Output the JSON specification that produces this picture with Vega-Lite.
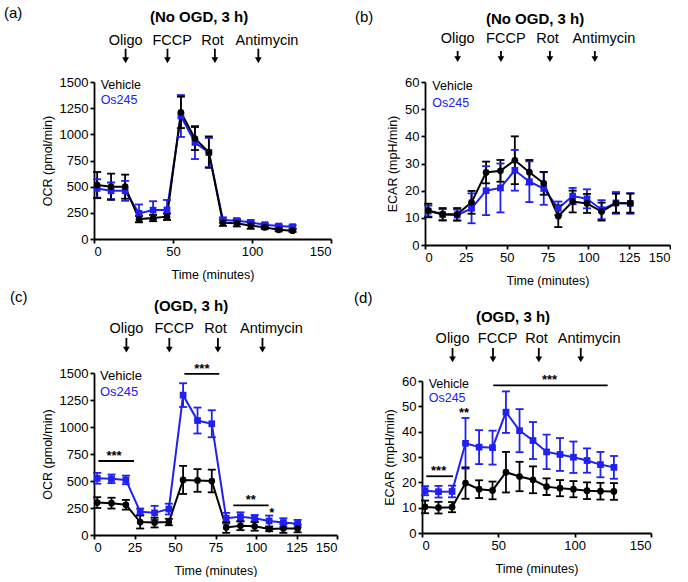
{
"$schema": "https://vega.github.io/schema/vega-lite/v6.json",
"background": "white",
"padding": {"left": 3, "top": 0, "right": 0, "bottom": 0},
"config": {
  "font": "Liberation Sans",
  "view": {"stroke": null},
  "axis": {"domainColor": "black", "domainWidth": 1.8, "tickColor": "black", "tickWidth": 1.8, "tickSize": 4, "labelFontSize": 13, "labelColor": "black", "labelFont": "Liberation Sans", "titleFont": "Liberation Sans", "titleFontSize": 12.5, "titleFontWeight": "normal", "titleColor": "black", "grid": false, "labelPadding": 2, "labelOverlap": false},
  "axisX": {"titlePadding": 10},
  "axisY": {"titlePadding": 5},
  "text": {"font": "Liberation Sans", "color": "black"}
},
"datasets": {
  "a": [
    {"t":2,"g":"Os245","v":483,"lo":395,"hi":571},{"t":10.8,"g":"Os245","v":460,"lo":380,"hi":540},{"t":19.7,"g":"Os245","v":460,"lo":365,"hi":555},{"t":28.5,"g":"Os245","v":245,"lo":160,"hi":330},{"t":37.4,"g":"Os245","v":276,"lo":191,"hi":361},{"t":46.2,"g":"Os245","v":278,"lo":183,"hi":373},{"t":55,"g":"Os245","v":1175,"lo":975,"hi":1375},{"t":63.9,"g":"Os245","v":922,"lo":764,"hi":1080},{"t":72.7,"g":"Os245","v":826,"lo":686,"hi":966},{"t":81.6,"g":"Os245","v":181,"lo":156,"hi":206},{"t":90.4,"g":"Os245","v":175,"lo":155,"hi":195},{"t":99.2,"g":"Os245","v":159,"lo":139,"hi":179},{"t":108.1,"g":"Os245","v":137,"lo":122,"hi":152},{"t":116.9,"g":"Os245","v":124,"lo":109,"hi":139},{"t":125.7,"g":"Os245","v":118,"lo":103,"hi":133},
    {"t":2,"g":"Vehicle","v":515,"lo":390,"hi":640},{"t":10.8,"g":"Vehicle","v":500,"lo":375,"hi":625},{"t":19.7,"g":"Vehicle","v":500,"lo":385,"hi":615},{"t":28.5,"g":"Vehicle","v":190,"lo":160,"hi":220},{"t":37.4,"g":"Vehicle","v":200,"lo":170,"hi":230},{"t":46.2,"g":"Vehicle","v":213,"lo":183,"hi":243},{"t":55,"g":"Vehicle","v":1210,"lo":1060,"hi":1360},{"t":63.9,"g":"Vehicle","v":960,"lo":850,"hi":1070},{"t":72.7,"g":"Vehicle","v":830,"lo":680,"hi":980},{"t":81.6,"g":"Vehicle","v":155,"lo":125,"hi":185},{"t":90.4,"g":"Vehicle","v":150,"lo":120,"hi":180},{"t":99.2,"g":"Vehicle","v":127,"lo":97,"hi":157},{"t":108.1,"g":"Vehicle","v":111,"lo":96,"hi":126},{"t":116.9,"g":"Vehicle","v":88,"lo":73,"hi":103},{"t":125.7,"g":"Vehicle","v":80,"lo":68,"hi":92}
  ],
  "b": [
    {"t":2,"g":"Os245","v":12.5,"lo":10.5,"hi":14.5},{"t":10.8,"g":"Os245","v":11.2,"lo":9.2,"hi":13.2},{"t":19.7,"g":"Os245","v":11,"lo":9,"hi":13},{"t":28.5,"g":"Os245","v":13.5,"lo":8,"hi":19},{"t":37.4,"g":"Os245","v":20,"lo":11,"hi":29},{"t":46.2,"g":"Os245","v":21,"lo":12,"hi":30},{"t":55,"g":"Os245","v":27.5,"lo":20,"hi":35},{"t":63.9,"g":"Os245","v":23.3,"lo":15.8,"hi":30.8},{"t":72.7,"g":"Os245","v":20.8,"lo":14.8,"hi":26.8},{"t":81.6,"g":"Os245","v":13.5,"lo":11,"hi":16},{"t":90.4,"g":"Os245","v":18,"lo":15,"hi":21},{"t":99.2,"g":"Os245","v":17,"lo":13.5,"hi":20.5},{"t":108.1,"g":"Os245","v":13,"lo":9.5,"hi":16.5},{"t":116.9,"g":"Os245","v":15.5,"lo":11.5,"hi":19.5},{"t":125.7,"g":"Os245","v":15.3,"lo":11.5,"hi":19.1},
    {"t":2,"g":"Vehicle","v":12.7,"lo":10.2,"hi":15.2},{"t":10.8,"g":"Vehicle","v":11.3,"lo":9,"hi":13.6},{"t":19.7,"g":"Vehicle","v":11.3,"lo":9,"hi":13.6},{"t":28.5,"g":"Vehicle","v":15.7,"lo":11.5,"hi":19.9},{"t":37.4,"g":"Vehicle","v":26.7,"lo":22.7,"hi":30.7},{"t":46.2,"g":"Vehicle","v":27.3,"lo":23.3,"hi":31.3},{"t":55,"g":"Vehicle","v":31.2,"lo":22.4,"hi":40},{"t":63.9,"g":"Vehicle","v":26.8,"lo":22.3,"hi":31.3},{"t":72.7,"g":"Vehicle","v":22.7,"lo":18.5,"hi":26.9},{"t":81.6,"g":"Vehicle","v":10.6,"lo":6.6,"hi":14.6},{"t":90.4,"g":"Vehicle","v":16,"lo":12,"hi":20},{"t":99.2,"g":"Vehicle","v":15.3,"lo":11.8,"hi":18.8},{"t":108.1,"g":"Vehicle","v":12.3,"lo":9,"hi":15.6},{"t":116.9,"g":"Vehicle","v":15.4,"lo":11.9,"hi":18.9},{"t":125.7,"g":"Vehicle","v":15.4,"lo":11.9,"hi":18.9}
  ],
  "c": [
    {"t":2,"g":"Os245","v":525,"lo":475,"hi":575},{"t":10.8,"g":"Os245","v":520,"lo":480,"hi":560},{"t":19.7,"g":"Os245","v":510,"lo":470,"hi":550},{"t":28.5,"g":"Os245","v":215,"lo":185,"hi":245},{"t":37.4,"g":"Os245","v":205,"lo":140,"hi":270},{"t":46.2,"g":"Os245","v":240,"lo":190,"hi":290},{"t":55,"g":"Os245","v":1295,"lo":1185,"hi":1405},{"t":63.9,"g":"Os245","v":1060,"lo":940,"hi":1180},{"t":72.7,"g":"Os245","v":1030,"lo":905,"hi":1155},{"t":81.6,"g":"Os245","v":155,"lo":105,"hi":205},{"t":90.4,"g":"Os245","v":170,"lo":130,"hi":210},{"t":99.2,"g":"Os245","v":155,"lo":125,"hi":185},{"t":108.1,"g":"Os245","v":130,"lo":80,"hi":180},{"t":116.9,"g":"Os245","v":115,"lo":75,"hi":155},{"t":125.7,"g":"Os245","v":105,"lo":70,"hi":140},
    {"t":2,"g":"Vehicle","v":300,"lo":250,"hi":350},{"t":10.8,"g":"Vehicle","v":295,"lo":245,"hi":345},{"t":19.7,"g":"Vehicle","v":280,"lo":235,"hi":325},{"t":28.5,"g":"Vehicle","v":120,"lo":60,"hi":180},{"t":37.4,"g":"Vehicle","v":115,"lo":70,"hi":160},{"t":46.2,"g":"Vehicle","v":120,"lo":90,"hi":150},{"t":55,"g":"Vehicle","v":510,"lo":380,"hi":640},{"t":63.9,"g":"Vehicle","v":505,"lo":400,"hi":610},{"t":72.7,"g":"Vehicle","v":500,"lo":395,"hi":605},{"t":81.6,"g":"Vehicle","v":70,"lo":20,"hi":120},{"t":90.4,"g":"Vehicle","v":85,"lo":45,"hi":125},{"t":99.2,"g":"Vehicle","v":80,"lo":40,"hi":120},{"t":108.1,"g":"Vehicle","v":55,"lo":35,"hi":75},{"t":116.9,"g":"Vehicle","v":60,"lo":20,"hi":100},{"t":125.7,"g":"Vehicle","v":60,"lo":25,"hi":95}
  ],
  "d": [
    {"t":2,"g":"Os245","v":16.7,"lo":14.9,"hi":18.5},{"t":10.8,"g":"Os245","v":16.3,"lo":14,"hi":18.6},{"t":19.7,"g":"Os245","v":16.4,"lo":14.1,"hi":18.7},{"t":28.5,"g":"Os245","v":35.4,"lo":25.4,"hi":45.4},{"t":37.4,"g":"Os245","v":33.9,"lo":27.2,"hi":40.6},{"t":46.2,"g":"Os245","v":33.7,"lo":27,"hi":40.4},{"t":55,"g":"Os245","v":47.7,"lo":39.5,"hi":55.9},{"t":63.9,"g":"Os245","v":40.4,"lo":31.9,"hi":48.9},{"t":72.7,"g":"Os245","v":36.5,"lo":29.2,"hi":43.8},{"t":81.6,"g":"Os245","v":32,"lo":25.2,"hi":38.8},{"t":90.4,"g":"Os245","v":31,"lo":24.5,"hi":37.5},{"t":99.2,"g":"Os245","v":29.9,"lo":23.7,"hi":36.1},{"t":108.1,"g":"Os245","v":28.6,"lo":23.8,"hi":33.4},{"t":116.9,"g":"Os245","v":27,"lo":22,"hi":32},{"t":125.7,"g":"Os245","v":25.9,"lo":21.4,"hi":30.4},
    {"t":2,"g":"Vehicle","v":10.3,"lo":7.8,"hi":12.8},{"t":10.8,"g":"Vehicle","v":10,"lo":7.7,"hi":12.3},{"t":19.7,"g":"Vehicle","v":10.2,"lo":8.2,"hi":12.2},{"t":28.5,"g":"Vehicle","v":19.7,"lo":13.5,"hi":25.9},{"t":37.4,"g":"Vehicle","v":17.3,"lo":13.8,"hi":20.8},{"t":46.2,"g":"Vehicle","v":16.8,"lo":13.3,"hi":20.3},{"t":55,"g":"Vehicle","v":24,"lo":16,"hi":32},{"t":63.9,"g":"Vehicle","v":22.3,"lo":16.5,"hi":28.1},{"t":72.7,"g":"Vehicle","v":21,"lo":15.7,"hi":26.3},{"t":81.6,"g":"Vehicle","v":18.3,"lo":15,"hi":21.6},{"t":90.4,"g":"Vehicle","v":17.7,"lo":14.5,"hi":20.9},{"t":99.2,"g":"Vehicle","v":17.3,"lo":14.1,"hi":20.5},{"t":108.1,"g":"Vehicle","v":16.7,"lo":13.4,"hi":20},{"t":116.9,"g":"Vehicle","v":16.5,"lo":13.2,"hi":19.8},{"t":125.7,"g":"Vehicle","v":16.4,"lo":13.1,"hi":19.7}
  ],
  "drugs": [
    {"drug":"Oligo","t":20,"lt":20},{"drug":"FCCP","t":46.5,"lt":49.5},{"drug":"Rot","t":76.5,"lt":75},{"drug":"Antimycin","t":104,"lt":109.5}
  ]
},
"columns": 2,
"align": "none",
"spacing": {"row": 1, "column": 16},
"concat": [
 {"vconcat": [
  {"width": 237, "height": 157,
   "layer": [
    {"data": {"name": "a"}, "mark": {"type": "line", "strokeWidth": 2},
     "encoding": {
      "x": {"field": "t", "type": "quantitative", "scale": {"domain": [0, 150], "nice": false}, "axis": {"values": [0,25,50,75,100,125,150], "title": "Time (minutes)", "labelOverlap": false}},
      "y": {"field": "v", "type": "quantitative", "scale": {"domain": [0, 1500], "nice": false}, "axis": {"values": [0,250,500,750,1000,1250,1500], "title": "OCR (pmol/min)", "labelOverlap": false, "format": "d"}},
      "color": {"field": "g", "type": "nominal", "scale": {"domain": ["Vehicle", "Os245"], "range": ["#000000", "#2020f0"]}, "legend": null}}},
    {"data": {"name": "a"}, "mark": {"type": "rule", "strokeWidth": 1.8},
     "encoding": {"x": {"field": "t", "type": "quantitative", "title": "Time (minutes)"}, "y": {"field": "lo", "type": "quantitative", "axis": {"values": [0,250,500,750,1000,1250,1500], "title": "OCR (pmol/min)", "labelOverlap": false, "format": "d"}}, "y2": {"field": "hi"}, "color": {"field": "g", "type": "nominal", "legend": null}}},
    {"data": {"name": "a"}, "mark": {"type": "tick", "orient": "horizontal", "size": 8, "thickness": 1.8, "opacity": 1},
     "encoding": {"x": {"field": "t", "type": "quantitative", "title": "Time (minutes)"}, "y": {"field": "lo", "type": "quantitative", "axis": {"values": [0,250,500,750,1000,1250,1500], "title": "OCR (pmol/min)", "labelOverlap": false, "format": "d"}}, "color": {"field": "g", "type": "nominal", "legend": null}}},
    {"data": {"name": "a"}, "mark": {"type": "tick", "orient": "horizontal", "size": 8, "thickness": 1.8, "opacity": 1},
     "encoding": {"x": {"field": "t", "type": "quantitative", "title": "Time (minutes)"}, "y": {"field": "hi", "type": "quantitative", "axis": {"values": [0,250,500,750,1000,1250,1500], "title": "OCR (pmol/min)", "labelOverlap": false, "format": "d"}}, "color": {"field": "g", "type": "nominal", "legend": null}}},
    {"data": {"name": "a"}, "mark": {"type": "point", "filled": true, "size": 45, "opacity": 1},
     "encoding": {"x": {"field": "t", "type": "quantitative", "title": "Time (minutes)"}, "y": {"field": "v", "type": "quantitative", "axis": {"values": [0,250,500,750,1000,1250,1500], "title": "OCR (pmol/min)", "labelOverlap": false, "format": "d"}}, "color": {"field": "g", "type": "nominal", "legend": null}, "shape": {"field": "g", "type": "nominal", "scale": {"domain": ["Vehicle", "Os245"], "range": ["circle", "square"]}, "legend": null}}},
    {"data": {"values": [{}]}, "mark": {"type": "point", "opacity": 0, "size": 1},
     "encoding": {"x": {"datum": 0}, "y": {"datum": 2274, "axis": {"values": [0,250,500,750,1000,1250,1500], "title": "OCR (pmol/min)", "labelOverlap": false, "format": "d"}}}},
    {"data": {"name": "drugs"}, "mark": {"type": "text", "fontSize": 14.5, "align": "center", "baseline": "alphabetic"},
     "encoding": {"x": {"field": "lt", "type": "quantitative", "title": "Time (minutes)"}, "y": {"datum": 1856, "axis": {"values": [0,250,500,750,1000,1250,1500], "title": "OCR (pmol/min)", "labelOverlap": false, "format": "d"}}, "text": {"field": "drug"}}},
    {"data": {"name": "drugs"}, "mark": {"type": "rule", "strokeWidth": 1.8, "color": "black"},
     "encoding": {"x": {"field": "t", "type": "quantitative", "title": "Time (minutes)"}, "y": {"datum": 1818, "axis": {"values": [0,250,500,750,1000,1250,1500], "title": "OCR (pmol/min)", "labelOverlap": false, "format": "d"}}, "y2": {"datum": 1712}}},
    {"data": {"name": "drugs"}, "mark": {"type": "point", "shape": "triangle-down", "filled": true, "size": 45, "color": "black", "opacity": 1},
     "encoding": {"x": {"field": "t", "type": "quantitative", "title": "Time (minutes)"}, "y": {"datum": 1708, "axis": {"values": [0,250,500,750,1000,1250,1500], "title": "OCR (pmol/min)", "labelOverlap": false, "format": "d"}}}},
    {"data": {"values": [{}]}, "mark": {"type": "text", "text": "(a)", "fontSize": 15, "align": "left", "baseline": "alphabetic"},
     "encoding": {"x": {"datum": -57}, "y": {"datum": 2111, "axis": {"values": [0,250,500,750,1000,1250,1500], "title": "OCR (pmol/min)", "labelOverlap": false, "format": "d"}}}},
    {"data": {"values": [{}]}, "mark": {"type": "text", "text": "(No OGD, 3 h)", "fontSize": 15, "fontWeight": "bold", "align": "center", "baseline": "alphabetic"},
     "encoding": {"x": {"datum": 66.5}, "y": {"datum": 2073, "axis": {"values": [0,250,500,750,1000,1250,1500], "title": "OCR (pmol/min)", "labelOverlap": false, "format": "d"}}}},
    {"data": {"values": [{}]}, "mark": {"type": "text", "text": "Vehicle", "fontSize": 12.5, "align": "left", "baseline": "middle", "color": "#000000"},
     "encoding": {"x": {"datum": 4.2}, "y": {"datum": 1468, "axis": {"values": [0,250,500,750,1000,1250,1500], "title": "OCR (pmol/min)", "labelOverlap": false, "format": "d"}}}},
    {"data": {"values": [{}]}, "mark": {"type": "text", "text": "Os245", "fontSize": 12.5, "align": "left", "baseline": "middle", "color": "#2020f0"},
     "encoding": {"x": {"datum": 4.2}, "y": {"datum": 1328, "axis": {"values": [0,250,500,750,1000,1250,1500], "title": "OCR (pmol/min)", "labelOverlap": false, "format": "d"}}}}
   ]}
 ]},
 {"vconcat": [
  {"width": 245, "height": 163,
   "layer": [
    {"data": {"name": "b"}, "mark": {"type": "line", "strokeWidth": 2},
     "encoding": {
      "x": {"field": "t", "type": "quantitative", "scale": {"domain": [0, 150], "nice": false}, "axis": {"values": [0,25,50,75,100,125,150], "title": "Time (minutes)", "labelOverlap": false}},
      "y": {"field": "v", "type": "quantitative", "scale": {"domain": [0, 60], "nice": false}, "axis": {"values": [0,10,20,30,40,50,60], "title": "ECAR (mpH/min)", "labelOverlap": false, "format": "d"}},
      "color": {"field": "g", "type": "nominal", "scale": {"domain": ["Vehicle", "Os245"], "range": ["#000000", "#2020f0"]}, "legend": null}}},
    {"data": {"name": "b"}, "mark": {"type": "rule", "strokeWidth": 1.8},
     "encoding": {"x": {"field": "t", "type": "quantitative", "title": "Time (minutes)"}, "y": {"field": "lo", "type": "quantitative", "axis": {"values": [0,10,20,30,40,50,60], "title": "ECAR (mpH/min)", "labelOverlap": false, "format": "d"}}, "y2": {"field": "hi"}, "color": {"field": "g", "type": "nominal", "legend": null}}},
    {"data": {"name": "b"}, "mark": {"type": "tick", "orient": "horizontal", "size": 8, "thickness": 1.8, "opacity": 1},
     "encoding": {"x": {"field": "t", "type": "quantitative", "title": "Time (minutes)"}, "y": {"field": "lo", "type": "quantitative", "axis": {"values": [0,10,20,30,40,50,60], "title": "ECAR (mpH/min)", "labelOverlap": false, "format": "d"}}, "color": {"field": "g", "type": "nominal", "legend": null}}},
    {"data": {"name": "b"}, "mark": {"type": "tick", "orient": "horizontal", "size": 8, "thickness": 1.8, "opacity": 1},
     "encoding": {"x": {"field": "t", "type": "quantitative", "title": "Time (minutes)"}, "y": {"field": "hi", "type": "quantitative", "axis": {"values": [0,10,20,30,40,50,60], "title": "ECAR (mpH/min)", "labelOverlap": false, "format": "d"}}, "color": {"field": "g", "type": "nominal", "legend": null}}},
    {"data": {"name": "b"}, "mark": {"type": "point", "filled": true, "size": 45, "opacity": 1},
     "encoding": {"x": {"field": "t", "type": "quantitative", "title": "Time (minutes)"}, "y": {"field": "v", "type": "quantitative", "axis": {"values": [0,10,20,30,40,50,60], "title": "ECAR (mpH/min)", "labelOverlap": false, "format": "d"}}, "color": {"field": "g", "type": "nominal", "legend": null}, "shape": {"field": "g", "type": "nominal", "scale": {"domain": ["Vehicle", "Os245"], "range": ["circle", "square"]}, "legend": null}}},
    {"data": {"values": [{}]}, "mark": {"type": "point", "opacity": 0, "size": 1},
     "encoding": {"x": {"datum": 0}, "y": {"datum": 88, "axis": {"values": [0,10,20,30,40,50,60], "title": "ECAR (mpH/min)", "labelOverlap": false, "format": "d"}}}},
    {"data": {"name": "drugs"}, "mark": {"type": "text", "fontSize": 14.5, "align": "center", "baseline": "alphabetic"},
     "encoding": {"x": {"field": "lt", "type": "quantitative", "title": "Time (minutes)"}, "y": {"datum": 74.2, "axis": {"values": [0,10,20,30,40,50,60], "title": "ECAR (mpH/min)", "labelOverlap": false, "format": "d"}}, "text": {"field": "drug"}}},
    {"data": {"name": "drugs"}, "mark": {"type": "rule", "strokeWidth": 1.8, "color": "black"},
     "encoding": {"x": {"field": "t", "type": "quantitative", "title": "Time (minutes)"}, "y": {"datum": 71.4, "axis": {"values": [0,10,20,30,40,50,60], "title": "ECAR (mpH/min)", "labelOverlap": false, "format": "d"}}, "y2": {"datum": 68.6}}},
    {"data": {"name": "drugs"}, "mark": {"type": "point", "shape": "triangle-down", "filled": true, "size": 45, "color": "black", "opacity": 1},
     "encoding": {"x": {"field": "t", "type": "quantitative", "title": "Time (minutes)"}, "y": {"datum": 68.4, "axis": {"values": [0,10,20,30,40,50,60], "title": "ECAR (mpH/min)", "labelOverlap": false, "format": "d"}}}},
    {"data": {"values": [{}]}, "mark": {"type": "text", "text": "(b)", "fontSize": 15, "align": "left", "baseline": "alphabetic"},
     "encoding": {"x": {"datum": -42.9}, "y": {"datum": 82.2, "axis": {"values": [0,10,20,30,40,50,60], "title": "ECAR (mpH/min)", "labelOverlap": false, "format": "d"}}}},
    {"data": {"values": [{}]}, "mark": {"type": "text", "text": "(No OGD, 3 h)", "fontSize": 15, "fontWeight": "bold", "align": "center", "baseline": "alphabetic"},
     "encoding": {"x": {"datum": 67.4}, "y": {"datum": 81.5, "axis": {"values": [0,10,20,30,40,50,60], "title": "ECAR (mpH/min)", "labelOverlap": false, "format": "d"}}}},
    {"data": {"values": [{}]}, "mark": {"type": "text", "text": "Vehicle", "fontSize": 12.5, "align": "left", "baseline": "middle", "color": "#000000"},
     "encoding": {"x": {"datum": 4.5}, "y": {"datum": 58.5, "axis": {"values": [0,10,20,30,40,50,60], "title": "ECAR (mpH/min)", "labelOverlap": false, "format": "d"}}}},
    {"data": {"values": [{}]}, "mark": {"type": "text", "text": "Os245", "fontSize": 12.5, "align": "left", "baseline": "middle", "color": "#2020f0"},
     "encoding": {"x": {"datum": 4.5}, "y": {"datum": 52.4, "axis": {"values": [0,10,20,30,40,50,60], "title": "ECAR (mpH/min)", "labelOverlap": false, "format": "d"}}}}
   ]}
 ]},
 {"vconcat": [
  {"width": 243, "height": 162,
   "layer": [
    {"data": {"name": "c"}, "mark": {"type": "line", "strokeWidth": 2},
     "encoding": {
      "x": {"field": "t", "type": "quantitative", "scale": {"domain": [0, 150], "nice": false}, "axis": {"values": [0,25,50,75,100,125,150], "title": "Time (minutes)", "labelOverlap": false}},
      "y": {"field": "v", "type": "quantitative", "scale": {"domain": [0, 1500], "nice": false}, "axis": {"values": [0,250,500,750,1000,1250,1500], "title": "OCR (pmol/min)", "labelOverlap": false, "format": "d"}},
      "color": {"field": "g", "type": "nominal", "scale": {"domain": ["Vehicle", "Os245"], "range": ["#000000", "#2020f0"]}, "legend": null}}},
    {"data": {"name": "c"}, "mark": {"type": "rule", "strokeWidth": 1.8},
     "encoding": {"x": {"field": "t", "type": "quantitative", "title": "Time (minutes)"}, "y": {"field": "lo", "type": "quantitative", "axis": {"values": [0,250,500,750,1000,1250,1500], "title": "OCR (pmol/min)", "labelOverlap": false, "format": "d"}}, "y2": {"field": "hi"}, "color": {"field": "g", "type": "nominal", "legend": null}}},
    {"data": {"name": "c"}, "mark": {"type": "tick", "orient": "horizontal", "size": 8, "thickness": 1.8, "opacity": 1},
     "encoding": {"x": {"field": "t", "type": "quantitative", "title": "Time (minutes)"}, "y": {"field": "lo", "type": "quantitative", "axis": {"values": [0,250,500,750,1000,1250,1500], "title": "OCR (pmol/min)", "labelOverlap": false, "format": "d"}}, "color": {"field": "g", "type": "nominal", "legend": null}}},
    {"data": {"name": "c"}, "mark": {"type": "tick", "orient": "horizontal", "size": 8, "thickness": 1.8, "opacity": 1},
     "encoding": {"x": {"field": "t", "type": "quantitative", "title": "Time (minutes)"}, "y": {"field": "hi", "type": "quantitative", "axis": {"values": [0,250,500,750,1000,1250,1500], "title": "OCR (pmol/min)", "labelOverlap": false, "format": "d"}}, "color": {"field": "g", "type": "nominal", "legend": null}}},
    {"data": {"name": "c"}, "mark": {"type": "point", "filled": true, "size": 45, "opacity": 1},
     "encoding": {"x": {"field": "t", "type": "quantitative", "title": "Time (minutes)"}, "y": {"field": "v", "type": "quantitative", "axis": {"values": [0,250,500,750,1000,1250,1500], "title": "OCR (pmol/min)", "labelOverlap": false, "format": "d"}}, "color": {"field": "g", "type": "nominal", "legend": null}, "shape": {"field": "g", "type": "nominal", "scale": {"domain": ["Vehicle", "Os245"], "range": ["circle", "square"]}, "legend": null}}},
    {"data": {"values": [{}]}, "mark": {"type": "point", "opacity": 0, "size": 1},
     "encoding": {"x": {"datum": 0}, "y": {"datum": 2278, "axis": {"values": [0,250,500,750,1000,1250,1500], "title": "OCR (pmol/min)", "labelOverlap": false, "format": "d"}}}},
    {"data": {"name": "drugs"}, "mark": {"type": "text", "fontSize": 14.5, "align": "center", "baseline": "alphabetic"},
     "encoding": {"x": {"field": "lt", "type": "quantitative", "title": "Time (minutes)"}, "y": {"datum": 1870, "axis": {"values": [0,250,500,750,1000,1250,1500], "title": "OCR (pmol/min)", "labelOverlap": false, "format": "d"}}, "text": {"field": "drug"}}},
    {"data": {"name": "drugs"}, "mark": {"type": "rule", "strokeWidth": 1.8, "color": "black"},
     "encoding": {"x": {"field": "t", "type": "quantitative", "title": "Time (minutes)"}, "y": {"datum": 1824, "axis": {"values": [0,250,500,750,1000,1250,1500], "title": "OCR (pmol/min)", "labelOverlap": false, "format": "d"}}, "y2": {"datum": 1720}}},
    {"data": {"name": "drugs"}, "mark": {"type": "point", "shape": "triangle-down", "filled": true, "size": 45, "color": "black", "opacity": 1},
     "encoding": {"x": {"field": "t", "type": "quantitative", "title": "Time (minutes)"}, "y": {"datum": 1716, "axis": {"values": [0,250,500,750,1000,1250,1500], "title": "OCR (pmol/min)", "labelOverlap": false, "format": "d"}}}},
    {"data": {"values": [{}]}, "mark": {"type": "text", "text": "(c)", "fontSize": 15, "align": "left", "baseline": "alphabetic"},
     "encoding": {"x": {"datum": -51.9}, "y": {"datum": 2157, "axis": {"values": [0,250,500,750,1000,1250,1500], "title": "OCR (pmol/min)", "labelOverlap": false, "format": "d"}}}},
    {"data": {"values": [{}]}, "mark": {"type": "text", "text": "(OGD, 3 h)", "fontSize": 15, "fontWeight": "bold", "align": "center", "baseline": "alphabetic"},
     "encoding": {"x": {"datum": 59.9}, "y": {"datum": 2071, "axis": {"values": [0,250,500,750,1000,1250,1500], "title": "OCR (pmol/min)", "labelOverlap": false, "format": "d"}}}},
    {"data": {"values": [{}]}, "mark": {"type": "text", "text": "Vehicle", "fontSize": 13, "align": "left", "baseline": "middle", "color": "#000000"},
     "encoding": {"x": {"datum": 3.7}, "y": {"datum": 1469, "axis": {"values": [0,250,500,750,1000,1250,1500], "title": "OCR (pmol/min)", "labelOverlap": false, "format": "d"}}}},
    {"data": {"values": [{}]}, "mark": {"type": "text", "text": "Os245", "fontSize": 13, "align": "left", "baseline": "middle", "color": "#2020f0"},
     "encoding": {"x": {"datum": 3.7}, "y": {"datum": 1321, "axis": {"values": [0,250,500,750,1000,1250,1500], "title": "OCR (pmol/min)", "labelOverlap": false, "format": "d"}}}},
    {"data": {"values": [{"x1": 2.7, "x2": 24.7, "y": 685}, {"x1": 55.8, "x2": 77.3, "y": 1491}, {"x1": 86, "x2": 107.8, "y": 275}]}, "mark": {"type": "rule", "strokeWidth": 1.8, "color": "black"},
     "encoding": {"x": {"field": "x1", "type": "quantitative", "title": "Time (minutes)"}, "x2": {"field": "x2"}, "y": {"field": "y", "type": "quantitative", "axis": {"values": [0,250,500,750,1000,1250,1500], "title": "OCR (pmol/min)", "labelOverlap": false, "format": "d"}}}},
    {"data": {"values": [{"x": 12.4, "y": 685, "s": "***"}, {"x": 66.6, "y": 1491, "s": "***"}, {"x": 96.8, "y": 275, "s": "**"}, {"x": 109.8, "y": 160, "s": "*"}]}, "mark": {"type": "text", "fontSize": 13, "fontWeight": "bold", "align": "center", "baseline": "alphabetic", "dy": -1},
     "encoding": {"x": {"field": "x", "type": "quantitative", "title": "Time (minutes)"}, "y": {"field": "y", "type": "quantitative", "axis": {"values": [0,250,500,750,1000,1250,1500], "title": "OCR (pmol/min)", "labelOverlap": false, "format": "d"}}, "text": {"field": "s"}}}
   ]}
 ]},
 {"vconcat": [
  {"width": 229, "height": 152,
   "layer": [
    {"data": {"name": "d"}, "mark": {"type": "line", "strokeWidth": 2},
     "encoding": {
      "x": {"field": "t", "type": "quantitative", "scale": {"domain": [0, 150], "nice": false}, "axis": {"values": [0,25,50,75,100,125,150], "title": "Time (minutes)", "labelOverlap": false}},
      "y": {"field": "v", "type": "quantitative", "scale": {"domain": [0, 60], "nice": false}, "axis": {"values": [0,10,20,30,40,50,60], "title": "ECAR (mpH/min)", "labelOverlap": false, "format": "d"}},
      "color": {"field": "g", "type": "nominal", "scale": {"domain": ["Vehicle", "Os245"], "range": ["#000000", "#2020f0"]}, "legend": null}}},
    {"data": {"name": "d"}, "mark": {"type": "rule", "strokeWidth": 1.8},
     "encoding": {"x": {"field": "t", "type": "quantitative", "title": "Time (minutes)"}, "y": {"field": "lo", "type": "quantitative", "axis": {"values": [0,10,20,30,40,50,60], "title": "ECAR (mpH/min)", "labelOverlap": false, "format": "d"}}, "y2": {"field": "hi"}, "color": {"field": "g", "type": "nominal", "legend": null}}},
    {"data": {"name": "d"}, "mark": {"type": "tick", "orient": "horizontal", "size": 8, "thickness": 1.8, "opacity": 1},
     "encoding": {"x": {"field": "t", "type": "quantitative", "title": "Time (minutes)"}, "y": {"field": "lo", "type": "quantitative", "axis": {"values": [0,10,20,30,40,50,60], "title": "ECAR (mpH/min)", "labelOverlap": false, "format": "d"}}, "color": {"field": "g", "type": "nominal", "legend": null}}},
    {"data": {"name": "d"}, "mark": {"type": "tick", "orient": "horizontal", "size": 8, "thickness": 1.8, "opacity": 1},
     "encoding": {"x": {"field": "t", "type": "quantitative", "title": "Time (minutes)"}, "y": {"field": "hi", "type": "quantitative", "axis": {"values": [0,10,20,30,40,50,60], "title": "ECAR (mpH/min)", "labelOverlap": false, "format": "d"}}, "color": {"field": "g", "type": "nominal", "legend": null}}},
    {"data": {"name": "d"}, "mark": {"type": "point", "filled": true, "size": 45, "opacity": 1},
     "encoding": {"x": {"field": "t", "type": "quantitative", "title": "Time (minutes)"}, "y": {"field": "v", "type": "quantitative", "axis": {"values": [0,10,20,30,40,50,60], "title": "ECAR (mpH/min)", "labelOverlap": false, "format": "d"}}, "color": {"field": "g", "type": "nominal", "legend": null}, "shape": {"field": "g", "type": "nominal", "scale": {"domain": ["Vehicle", "Os245"], "range": ["circle", "square"]}, "legend": null}}},
    {"data": {"values": [{}]}, "mark": {"type": "point", "opacity": 0, "size": 1},
     "encoding": {"x": {"datum": 0}, "y": {"datum": 96.3, "axis": {"values": [0,10,20,30,40,50,60], "title": "ECAR (mpH/min)", "labelOverlap": false, "format": "d"}}}},
    {"data": {"name": "drugs"}, "mark": {"type": "text", "fontSize": 14.5, "align": "center", "baseline": "alphabetic"},
     "encoding": {"x": {"field": "lt", "type": "quantitative", "title": "Time (minutes)"}, "y": {"datum": 74.9, "axis": {"values": [0,10,20,30,40,50,60], "title": "ECAR (mpH/min)", "labelOverlap": false, "format": "d"}}, "text": {"field": "drug"}}},
    {"data": {"name": "drugs"}, "mark": {"type": "rule", "strokeWidth": 1.8, "color": "black"},
     "encoding": {"x": {"field": "t", "type": "quantitative", "title": "Time (minutes)"}, "y": {"datum": 73, "axis": {"values": [0,10,20,30,40,50,60], "title": "ECAR (mpH/min)", "labelOverlap": false, "format": "d"}}, "y2": {"datum": 68.7}}},
    {"data": {"name": "drugs"}, "mark": {"type": "point", "shape": "triangle-down", "filled": true, "size": 45, "color": "black", "opacity": 1},
     "encoding": {"x": {"field": "t", "type": "quantitative", "title": "Time (minutes)"}, "y": {"datum": 68.5, "axis": {"values": [0,10,20,30,40,50,60], "title": "ECAR (mpH/min)", "labelOverlap": false, "format": "d"}}}},
    {"data": {"values": [{}]}, "mark": {"type": "text", "text": "(d)", "fontSize": 15, "align": "left", "baseline": "alphabetic"},
     "encoding": {"x": {"datum": -44.5}, "y": {"datum": 90.8, "axis": {"values": [0,10,20,30,40,50,60], "title": "ECAR (mpH/min)", "labelOverlap": false, "format": "d"}}}},
    {"data": {"values": [{}]}, "mark": {"type": "text", "text": "(OGD, 3 h)", "fontSize": 15, "fontWeight": "bold", "align": "center", "baseline": "alphabetic"},
     "encoding": {"x": {"datum": 59.6}, "y": {"datum": 83.2, "axis": {"values": [0,10,20,30,40,50,60], "title": "ECAR (mpH/min)", "labelOverlap": false, "format": "d"}}}},
    {"data": {"values": [{}]}, "mark": {"type": "text", "text": "Vehicle", "fontSize": 12.5, "align": "left", "baseline": "middle", "color": "#000000"},
     "encoding": {"x": {"datum": 4.4}, "y": {"datum": 58.8, "axis": {"values": [0,10,20,30,40,50,60], "title": "ECAR (mpH/min)", "labelOverlap": false, "format": "d"}}}},
    {"data": {"values": [{}]}, "mark": {"type": "text", "text": "Os245", "fontSize": 12.5, "align": "left", "baseline": "middle", "color": "#2020f0"},
     "encoding": {"x": {"datum": 4.4}, "y": {"datum": 53.3, "axis": {"values": [0,10,20,30,40,50,60], "title": "ECAR (mpH/min)", "labelOverlap": false, "format": "d"}}}},
    {"data": {"values": [{"x1": 2.8, "x2": 20.3, "y": 22.4}, {"x1": 46.7, "x2": 121.6, "y": 58.3}]}, "mark": {"type": "rule", "strokeWidth": 1.8, "color": "black"},
     "encoding": {"x": {"field": "x1", "type": "quantitative", "title": "Time (minutes)"}, "x2": {"field": "x2"}, "y": {"field": "y", "type": "quantitative", "axis": {"values": [0,10,20,30,40,50,60], "title": "ECAR (mpH/min)", "labelOverlap": false, "format": "d"}}}},
    {"data": {"values": [{"x": 10.9, "y": 22.4, "s": "***"}, {"x": 27.5, "y": 45.4, "s": "**"}, {"x": 83.5, "y": 58.3, "s": "***"}]}, "mark": {"type": "text", "fontSize": 13, "fontWeight": "bold", "align": "center", "baseline": "alphabetic", "dy": -1},
     "encoding": {"x": {"field": "x", "type": "quantitative", "title": "Time (minutes)"}, "y": {"field": "y", "type": "quantitative", "axis": {"values": [0,10,20,30,40,50,60], "title": "ECAR (mpH/min)", "labelOverlap": false, "format": "d"}}, "text": {"field": "s"}}}
   ]}
 ]}
]
}
